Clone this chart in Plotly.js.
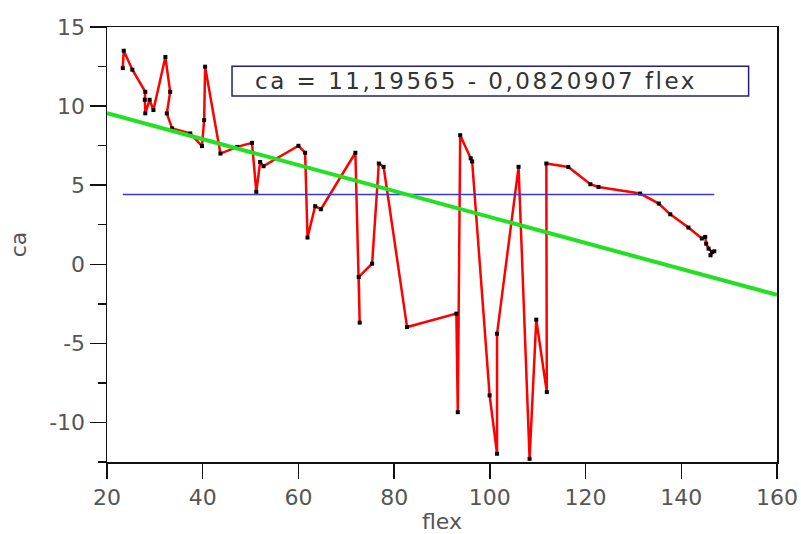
<!DOCTYPE html>
<html>
<head>
<meta charset="utf-8">
<script src="https://cdn.plot.ly/plotly-3.0.1.min.js"></script>
<style>
html,body{margin:0;padding:0;background:#fff;}
.annotation-text{letter-spacing:2.5px;}
</style>
</head>
<body>
<div id="chart" style="width:801px;height:534px;"></div>
<script>
// observed data (flex, ca) in plotted order
const flex = [23.3, 23.5, 25.3, 28.0, 27.9, 28.0, 28.9, 29.7, 32.2, 33.2, 32.5, 33.6, 37.4, 39.85, 40.3, 40.5, 43.7, 47.2, 50.3, 51.2, 52.0, 52.7, 60.0, 61.4, 61.9, 63.5, 64.7, 71.9, 72.8, 72.6, 75.4, 76.8, 77.8, 82.7, 93.0, 93.3, 93.8, 96.0, 96.3, 99.95, 101.5, 101.5, 106.0, 108.3, 109.7, 111.9, 111.8, 116.4, 121.0, 122.7, 131.4, 135.3, 137.7, 141.5, 144.3, 145.0, 145.2, 145.7, 146.4, 146.1, 146.9];
const ca   = [12.4, 13.5, 12.3, 10.9, 10.4, 9.54, 10.4, 9.75, 13.1, 10.9, 9.54, 8.59, 8.27, 7.47, 9.11, 12.49, 7.0, 7.42, 7.68, 4.58, 6.47, 6.2, 7.49, 7.05, 1.69, 3.67, 3.48, 7.05, -3.69, -0.8, 0.04, 6.37, 6.16, -3.97, -3.12, -9.35, 8.16, 6.7, 6.5, -8.29, -11.98, -4.39, 6.16, -12.3, -3.5, -8.08, 6.37, 6.15, 5.06, 4.89, 4.47, 3.84, 3.16, 2.32, 1.63, 1.73, 1.3, 0.99, 0.78, 0.57, 0.82];
// mean line
const meanX = [23.3, 146.9];
const meanY = [4.41, 4.41];
// regression line  ca = 11,19565 - 0,0820907 flex
const fitX = [20, 160];
const fitY = [9.554, -1.938];
const eqText = "ca = 11,19565 - 0,0820907 flex";
const xTicks = [20, 40, 60, 80, 100, 120, 140, 160];
const yTicks = [-10, -5, 0, 5, 10, 15];

const tickFont = {family: "DejaVu Sans", size: 22, color: "#555"};

const traces = [
  {x: flex, y: ca, type: "scatter", mode: "lines+markers",
   line: {color: "#ff0000", width: 2.5},
   marker: {color: "#000", size: 4, symbol: "square"}, hoverinfo: "skip"},
  {x: meanX, y: meanY, type: "scatter", mode: "lines",
   line: {color: "#3a3ad0", width: 1.5}, hoverinfo: "skip"},
  {x: fitX, y: fitY, type: "scatter", mode: "lines",
   line: {color: "#22e022", width: 4}, hoverinfo: "skip"}
];

const layout = {
  width: 801, height: 534,
  margin: {l: 107, r: 24, t: 27, b: 72},
  showlegend: false,
  paper_bgcolor: "#fff", plot_bgcolor: "#fff",
  xaxis: {
    range: [20, 160], tickvals: xTicks, ticktext: xTicks.map(String),
    ticks: "outside", ticklen: 15, tickwidth: 1.5, tickcolor: "#111",
    showline: true, linecolor: "#111", linewidth: 1.5, mirror: true,
    showgrid: false, zeroline: false, tickfont: tickFont,
    title: {text: "flex", font: {family: "DejaVu Sans", size: 22, color: "#555"}, standoff: 7}
  },
  yaxis: {
    range: [-12.5, 15], tickvals: yTicks, ticktext: yTicks.map(String),
    ticks: "outside", ticklen: 16, tickwidth: 1.5, tickcolor: "#111",
    minor: {tickvals: [-12.5, -7.5, -2.5, 2.5, 7.5, 12.5], ticks: "outside", ticklen: 8, tickwidth: 1.5, tickcolor: "#111", showgrid: false},
    showline: true, linecolor: "#111", linewidth: 1.5, mirror: true,
    showgrid: false, zeroline: false, tickfont: tickFont,
    title: {text: "ca", font: {family: "DejaVu Sans", size: 22, color: "#555"}, standoff: 16}
  },
  shapes: [
    {type: "rect", xref: "paper", yref: "paper", x0: 0.1866, x1: 0.9576, y0: 0.8414, y1: 0.910,
     line: {color: "#20207a", width: 1.5}, fillcolor: "#fff", layer: "above"}
  ],
  annotations: [
    {xref: "paper", yref: "paper", x: 0.550, y: 0.876, xanchor: "center", yanchor: "middle",
     text: eqText, showarrow: false,
     font: {family: "DejaVu Sans", size: 23, color: "#333"}}
  ]
};

Plotly.newPlot("chart", traces, layout, {displayModeBar: false, staticPlot: true});
</script>
</body>
</html>
